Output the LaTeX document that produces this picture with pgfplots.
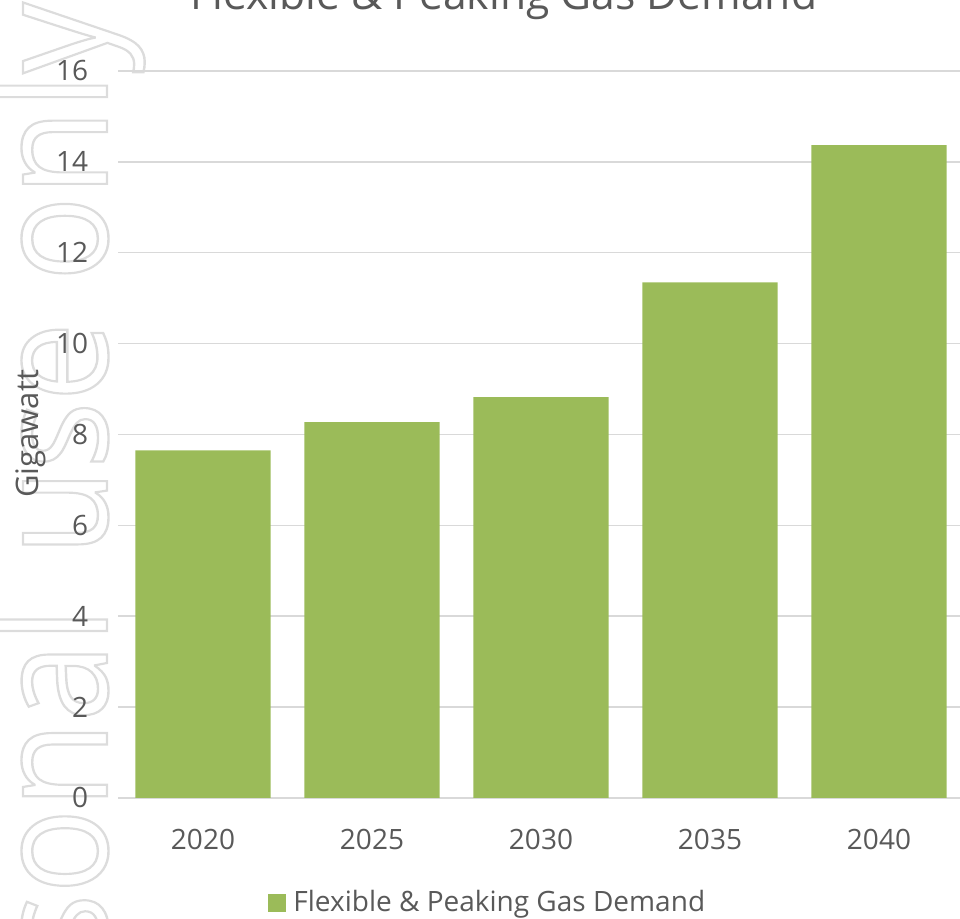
\documentclass[border=0pt]{standalone}
\usepackage{pgfplots}
\pgfplotsset{compat=1.18}
\usepackage{fontspec}
\setmainfont{Open Sans}
\definecolor{txt}{HTML}{595959}
\definecolor{gridc}{HTML}{D9D9D9}
\definecolor{barc}{HTML}{9BBB59}
\definecolor{wm}{HTML}{DCDCDC}
\newcommand{\wmtext}[1]{{\color{wm}\special{pdf:literal 1 Tr 1.2 w}#1\special{pdf:literal 0 Tr}}}
\begin{document}
\begin{tikzpicture}[x=0.5pt,y=0.5pt]
\path[use as bounding box] (0,0) rectangle (960,919);
\clip (0,0) rectangle (960,919);
% watermark (outlined text)
\tikzset{wmnode/.style={rotate=90, xscale=0.9, anchor=base east, inner sep=0pt, font=\fontsize{78.5pt}{78.5pt}\selectfont}}
\node[wmnode] at (107,917) {\wmtext{only}};
\node[wmnode] at (107,597) {\wmtext{use}};
\node[wmnode] at (107,312) {\wmtext{personal}};
\begin{axis}[
  at={(59.25pt,60.5pt)}, anchor=south west,
  scale only axis, width=422.5pt, height=363.5pt,
  xmin=-0.5, xmax=4.5, ymin=0, ymax=16,
  ytick={0,2,...,16},
  xtick={0,1,2,3,4}, xticklabels={2020,2025,2030,2035,2040},
  axis line style={draw=none}, major tick length=0pt,
  ymajorgrids, grid style={gridc, line width=0.75pt},
  tick label style={font=\fontsize{14pt}{16pt}\selectfont, text=txt, inner sep=0pt},
  y tick label style={anchor=base east, xshift=-15pt, yshift=-5pt},
  x tick label style={anchor=base, yshift=-26pt},
  /pgf/number format/assume math mode=true,
  clip=false,
]
\addplot[ybar, bar width=0.8, fill=barc, draw=none] coordinates {(0,7.65) (1,8.27) (2,8.82) (3,11.35) (4,14.37)};
\end{axis}
\node[rotate=90, anchor=base, inner sep=0pt, text=txt, font=\fontsize{15.5pt}{18pt}\selectfont] at (39,485) {Gigawatt};
\node[anchor=base, inner sep=0pt, text=txt, font=\fontsize{21.3pt}{26pt}\selectfont] at (504,909) {Flexible \& Peaking Gas Demand};
\fill[barc] (268,7) rectangle (286,25);
\node[anchor=base west, inner sep=0pt, text=txt, font=\fontsize{14pt}{16pt}\selectfont] at (293,7) {Flexible \& Peaking Gas Demand};
\end{tikzpicture}
\end{document}
